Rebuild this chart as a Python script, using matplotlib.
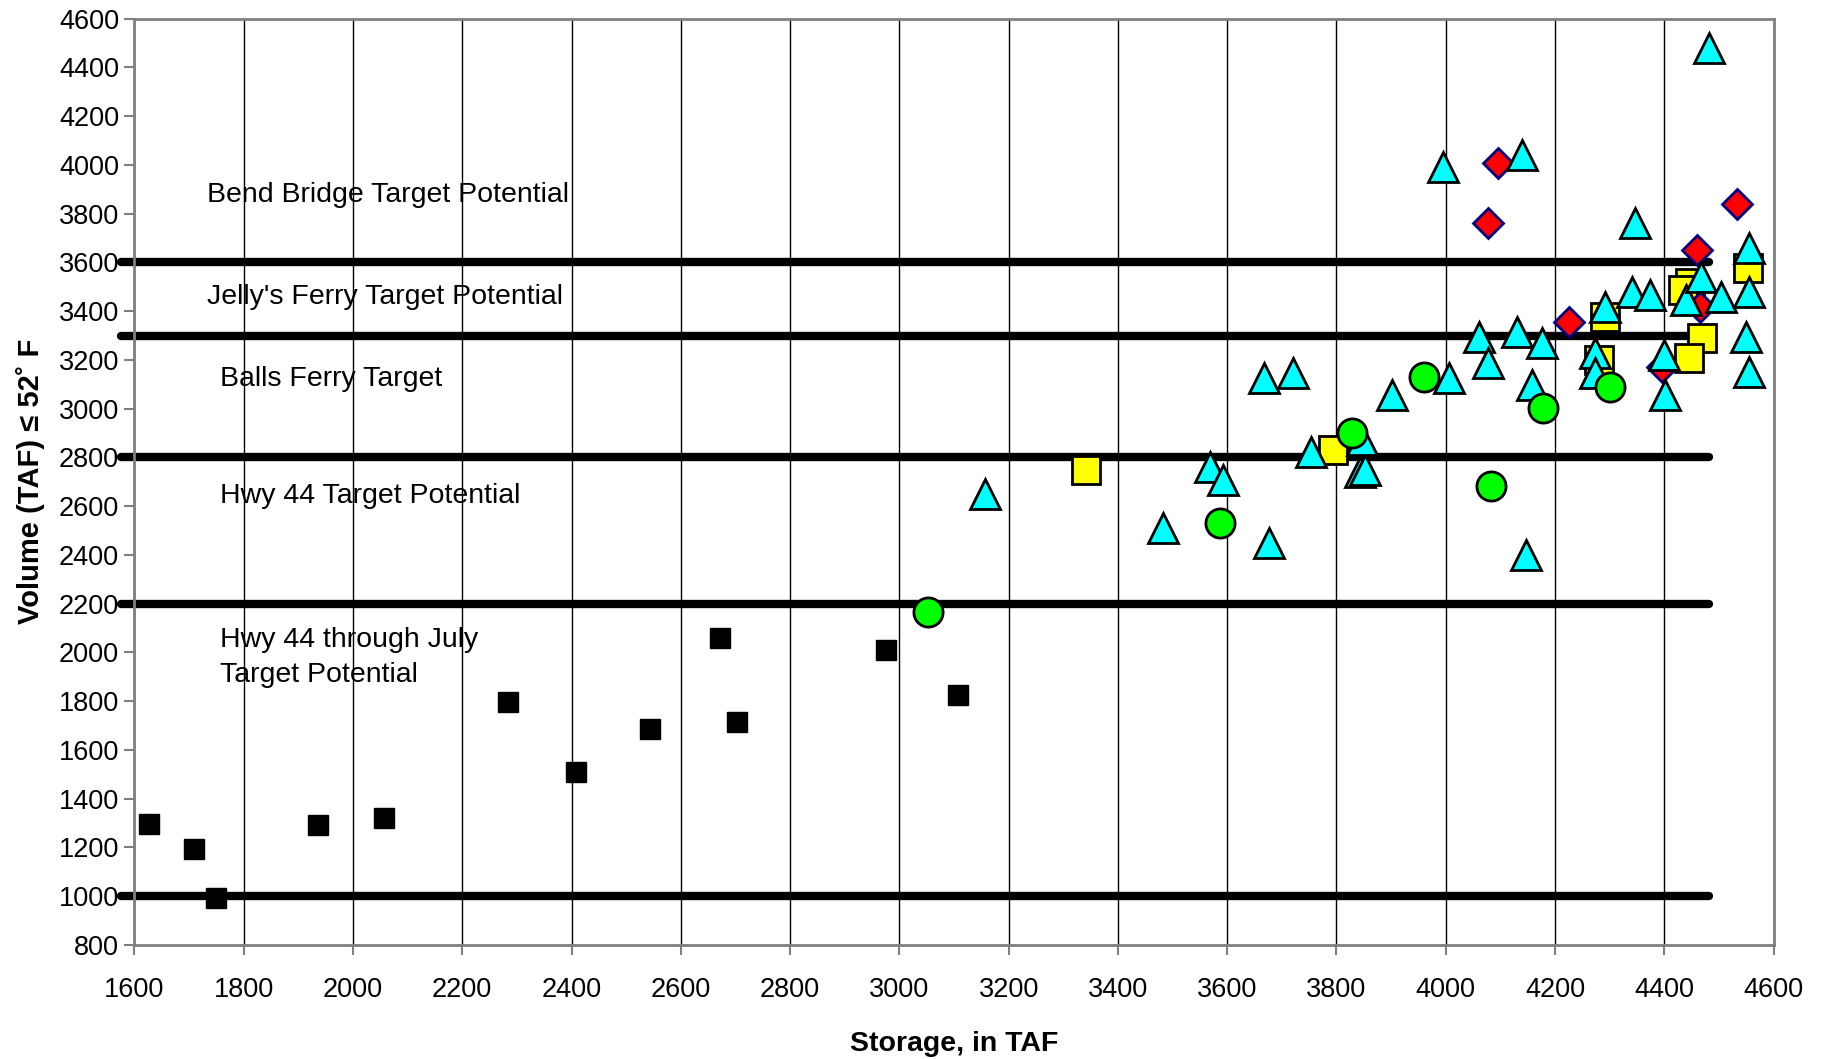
import matplotlib
matplotlib.use("Agg")
import matplotlib.pyplot as plt

plt.rcParams['font.family'] = ['Liberation Sans', 'DejaVu Sans']

# black squares
sq_black_x = [1627, 1710, 1750, 1936, 2057, 2283, 2409, 2543, 2671, 2703, 2976, 3108]
sq_black_y = [1298, 1193, 993, 1294, 1322, 1795, 1509, 1685, 2058, 1714, 2010, 1824]

# yellow squares
sq_yel_x = [3342, 3793, 4291, 4280, 4447, 4434, 4553, 4469, 4445]
sq_yel_y = [2748, 2830, 3376, 3199, 3515, 3486, 3577, 3290, 3207]

# red diamonds
dia_x = [4096, 4077, 4226, 4533, 4460, 4466, 4396]
dia_y = [4008, 3761, 3355, 3839, 3651, 3417, 3171]

# cyan triangles
tri_x = [3157, 3483, 3569, 3593, 3677, 3668, 3721, 3753, 3843, 3852, 3846, 3902,
         3995, 4006, 4061, 4077, 4130, 4140, 4146, 4158, 4176, 4273, 4273, 4291,
         4341, 4346, 4374, 4399, 4401, 4440, 4467, 4482, 4504, 4549, 4555, 4555, 4555]
tri_y = [2650, 2509, 2761, 2707, 2447, 3124, 3145, 2823, 2741, 2748, 2871, 3056,
         3991, 3125, 3294, 3187, 3314, 4040, 2399, 3097, 3269, 3228, 3146, 3417,
         3478, 3761, 3466, 3220, 3056, 3445, 3540, 4479, 3457, 3294, 3659, 3480, 3150]

# green circles
circ_x = [3053, 3587, 3828, 3961, 4082, 4178, 4300]
circ_y = [2167, 2532, 2901, 3131, 2682, 3001, 3089]

# target boundaries
bounds = [1000, 2200, 2800, 3300, 3600]
bound_x = [1575, 4482]

labels = ["Bend Bridge Target Potential", "Jelly's Ferry Target Potential",
          "Balls Ferry Target", "Hwy 44 Target Potential",
          "Hwy 44 through July\nTarget Potential"]
label_x = [1733, 1733, 1757, 1757, 1757]
label_y = [3878, 3458, 3123, 2641, 1980]

fig = plt.figure(figsize=(18.26, 10.59), dpi=100)
ax = fig.add_axes([0.0736, 0.1077, 0.8977, 0.8747])

for b in bounds:
    ax.plot(bound_x, [b, b], color='black', lw=6, solid_capstyle='round',
            zorder=2, clip_on=False)

ax.plot(sq_black_x, sq_black_y, 's', ms=15, mfc='black', mec='black', mew=1, zorder=3)
ax.plot(sq_yel_x, sq_yel_y, 's', ms=20, mfc='#ffff00', mec='black', mew=2, zorder=4)
ax.plot(dia_x, dia_y, 'D', ms=15.5, mfc='#ff0000', mec='#000080', mew=2, zorder=5)
ax.plot(tri_x, tri_y, '^', ms=22, mfc='#00ffff', mec='black', mew=2, zorder=6)
ax.plot(circ_x, circ_y, 'o', ms=21, mfc='#00ff00', mec='black', mew=2, zorder=7)

for t, x, y in zip(labels, label_x, label_y):
    ax.text(x, y, t, fontsize=20.5, va='center', ha='left', zorder=8, linespacing=1.45)

ax.set_xlim(1600, 4600)
ax.set_ylim(800, 4600)
ax.set_xticks(range(1600, 4601, 200))
ax.set_yticks(range(800, 4601, 200))
ax.xaxis.grid(True, color='black', lw=1)
ax.set_axisbelow(True)
ax.tick_params(axis='both', labelsize=19.5, direction='out', length=7, width=1.5,
               color='#808080', pad=4)
ax.tick_params(axis='x', pad=16)
for s in ax.spines.values():
    s.set_color('#808080')
    s.set_linewidth(2)

ax.set_xlabel("Storage, in TAF", fontsize=20.5, fontweight='bold', labelpad=20)
ax.set_ylabel("Volume (TAF) \u2264 52\u02da F", fontsize=21, fontweight='bold', labelpad=10)

fig.savefig("out.png", dpi=100)
